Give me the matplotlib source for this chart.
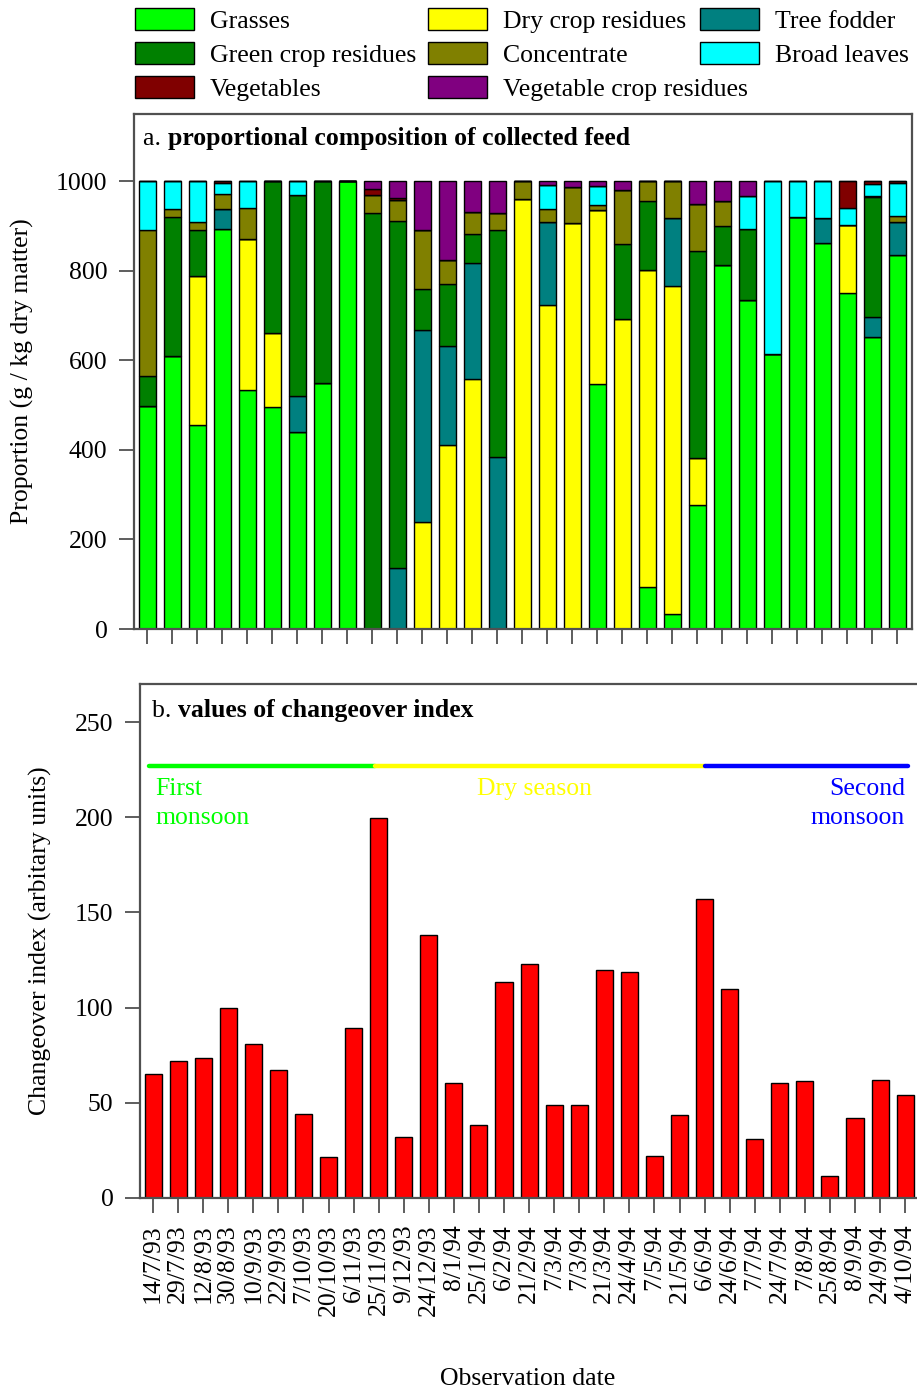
import matplotlib
matplotlib.use("Agg")
import matplotlib.pyplot as plt
from matplotlib.patches import Patch
import numpy as np

plt.rcParams['font.family'] = ['Liberation Serif', 'DejaVu Serif']

dates = ["14/7/93", "29/7/93", "12/8/93", "30/8/93", "10/9/93", "22/9/93", "7/10/93",
         "20/10/93", "6/11/93", "25/11/93", "9/12/93", "24/12/93", "8/1/94", "25/1/94",
         "6/2/94", "21/2/94", "7/3/94", "7/3/94", "21/3/94", "24/4/94", "7/5/94", "21/5/94",
         "6/6/94", "24/6/94", "7/7/94", "24/7/94", "7/8/94", "25/8/94", "8/9/94", "24/9/94",
         "4/10/94"]

grasses = [498, 609, 455, 894, 534, 495, 440, 550, 1000, 0, 0, 0, 0, 0, 0, 0, 0, 0, 548, 0,
           94, 33, 276, 813, 735, 613, 921, 862, 751, 653, 835]
dry_crop = [0, 0, 333, 0, 337, 167, 0, 0, 0, 0, 0, 238, 410, 559, 0, 960, 723, 907, 388, 693,
            707, 733, 106, 0, 0, 0, 0, 0, 151, 0, 0]
tree_fodder = [0, 0, 0, 43, 0, 0, 80, 0, 0, 0, 136, 430, 222, 258, 383, 0, 185, 0, 0, 0,
               0, 151, 0, 0, 0, 0, 0, 55, 0, 43, 73]
green_crop = [66, 312, 102, 0, 0, 338, 449, 450, 0, 930, 775, 92, 138, 66, 507, 0, 0, 0, 0, 166,
              154, 0, 461, 86, 158, 0, 0, 0, 0, 268, 0]
concentrate = [326, 16, 18, 34, 68, 0, 0, 0, 0, 40, 46, 130, 55, 48, 40, 40, 29, 79, 10, 122,
               45, 83, 106, 56, 0, 0, 0, 0, 0, 3, 15]
broad_leaves = [110, 63, 92, 25, 61, 0, 31, 0, 0, 0, 0, 0, 0, 0, 0, 0, 55, 0, 44, 0,
                0, 0, 0, 0, 73, 387, 79, 83, 37, 26, 73]
vegetables = [0, 0, 0, 4, 0, 0, 0, 0, 0, 12, 5, 0, 0, 0, 0, 0, 0, 0, 0, 0,
              0, 0, 0, 0, 0, 0, 0, 0, 61, 7, 4]
veg_crop_res = [0, 0, 0, 0, 0, 0, 0, 0, 0, 18, 38, 110, 175, 69, 70, 0, 8, 14, 10, 19,
                0, 0, 51, 45, 34, 0, 0, 0, 0, 0, 0]

changeover = [65.3, 71.8, 73.5, 99.6, 81, 67.1, 44, 21.7, 89.5, 199.8, 32.3, 137.9, 60.6, 38.3,
              113.5, 122.7, 48.9, 48.9, 119.7, 118.8, 21.8, 43.5, 156.9, 109.6, 31.2, 60.3,
              61.4, 11.6, 42.2, 61.9, 54]

season_names = ["First\nmonsoon", "Dry season", "Second\nmonsoon"]
season_start = [-0.16, 8.86, 22.02]
season_end = [8.86, 22.02, 30.1]
season_colors = ["#00FF00", "#FFFF00", "#0000FF"]

stack_order = [
    ("Grasses", grasses, "#00FF00"),
    ("Dry crop residues", dry_crop, "#FFFF00"),
    ("Tree fodder", tree_fodder, "#008080"),
    ("Green crop residues", green_crop, "#008000"),
    ("Concentrate", concentrate, "#808000"),
    ("Broad leaves", broad_leaves, "#00FFFF"),
    ("Vegetables", vegetables, "#800000"),
    ("Vegetable crop residues", veg_crop_res, "#800080"),
]
legend_columns = [["Grasses", "Green crop residues", "Vegetables"],
                  ["Dry crop residues", "Concentrate", "Vegetable crop residues"],
                  ["Tree fodder", "Broad leaves"]]

FS = 18.5
SPINE = "#505050"
W, H = 917, 1391
fig = plt.figure(figsize=(W / 100, H / 100), dpi=100)

def ax_rect(l, r, t, b):
    return [l / W, 1 - b / H, (r - l) / W, (b - t) / H]

x = np.arange(len(dates))
bw = 0.68

# ---- panel a
ax1 = fig.add_axes(ax_rect(134, 912, 114, 629))
bottom = np.zeros(len(dates))
colors = {}
for name, vals, col in stack_order:
    v = np.array(vals, dtype=float)
    ax1.bar(x, v, bw, bottom=bottom, color=col, edgecolor="black", linewidth=1.0)
    bottom += v
    colors[name] = col
ax1.set_xlim(-0.52, 30.6)
ax1.set_ylim(0, 1150)
ax1.set_yticks([0, 200, 400, 600, 800, 1000])
ax1.set_xticks(x)
ax1.set_xticklabels([])
ax1.set_ylabel("Proportion (g / kg dry matter)", fontsize=FS)
ax1.yaxis.label.set_va("center")
ax1.yaxis.set_label_coords((22 - 134) / 778, 0.5)
t1 = ax1.text(9 / 778, 1 - 25 / 515, "a. ", transform=ax1.transAxes, fontsize=FS,
              va="center", ha="left")
ax1.annotate("proportional composition of collected feed", xy=(1, 0.5), xycoords=t1,
             fontsize=FS, fontweight="bold", va="center", ha="left")

# ---- panel b
ax2 = fig.add_axes(ax_rect(140, 140 + 31.12 * 25.07, 684, 1198))
ax2.bar(x, changeover, bw, color="#FF0000", edgecolor="black", linewidth=1.0)
ax2.set_xlim(-0.52, 30.6)
ax2.set_ylim(0, 270)
ax2.set_yticks([0, 50, 100, 150, 200, 250])
ax2.set_xticks(x)
ax2.set_xticklabels(dates, rotation=90, fontsize=FS)
ax2.set_ylabel("Changeover index (arbitary units)", fontsize=FS)
ax2.yaxis.label.set_va("center")
ax2.yaxis.set_label_coords((40 - 140) / 780, 0.5)
t2 = ax2.text(12 / 780, 1 - 27 / 514, "b. ", transform=ax2.transAxes, fontsize=FS,
              va="center", ha="left")
ax2.annotate("values of changeover index", xy=(1, 0.5), xycoords=t2,
             fontsize=FS, fontweight="bold", va="center", ha="left")

line_y = 227
for s, e, c in zip(season_start, season_end, season_colors):
    ax2.plot([s, e], [line_y, line_y], color=c, lw=3.2, solid_capstyle="round")
text_y = 220.5
ax2.text(0.08, text_y, season_names[0], color=season_colors[0], fontsize=FS, ha="left",
         va="top", linespacing=1.38)
ax2.text(15.2, text_y, season_names[1], color=season_colors[1], fontsize=FS, ha="center",
         va="top", linespacing=1.38)
ax2.text(30.0, text_y, season_names[2], color=season_colors[2], fontsize=FS, ha="right",
         va="top", linespacing=1.38, multialignment="right")

for ax in (ax1, ax2):
    for sp in ax.spines.values():
        sp.set_color(SPINE)
        sp.set_linewidth(1.6)
    ax.tick_params(axis="both", direction="out", length=11, width=1.3, color=SPINE,
                   labelsize=FS, pad=8)

fig.text(528 / W, 1 - 1379 / H, "Observation date", fontsize=FS, ha="center", va="center")

col_x = [135, 428, 700]
for cx, names in zip(col_x, legend_columns):
    handles = [Patch(facecolor=colors[n], edgecolor="black", linewidth=1.0) for n in names]
    fig.legend(handles, names, loc="upper left", bbox_to_anchor=(cx / W, 1 - 8 / H),
               ncol=1, frameon=False, fontsize=FS, handlelength=2.3, handleheight=0.95,
               handletextpad=0.6, labelspacing=0.36, borderpad=0, borderaxespad=0)

fig.savefig("out.png", dpi=100)
